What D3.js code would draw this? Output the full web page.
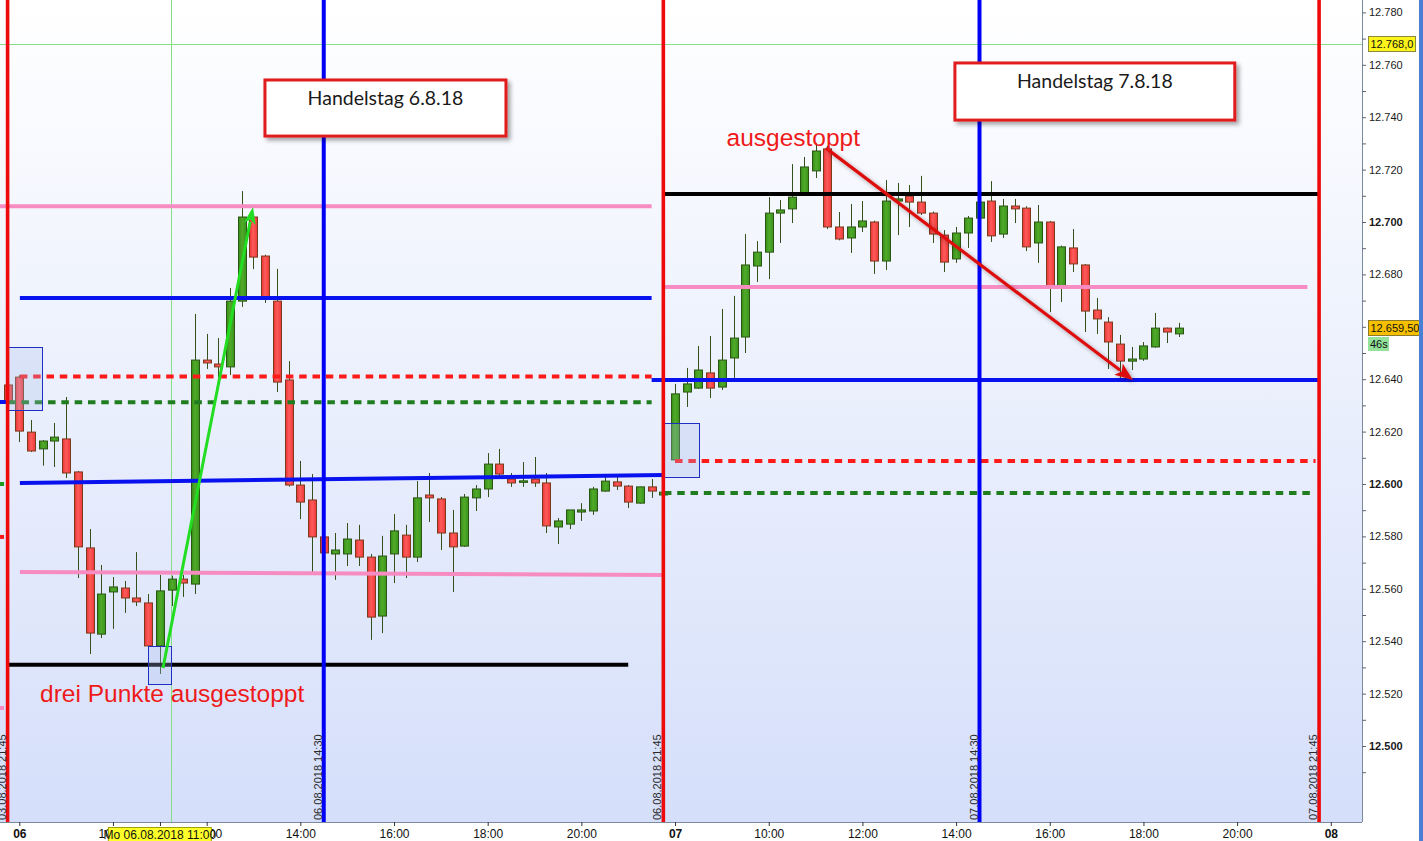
<!DOCTYPE html>
<html><head><meta charset="utf-8">
<script src="https://cdn.jsdelivr.net/npm/d3@7"></script>
<style>
html,body{margin:0;padding:0;background:#fff;overflow:hidden}
svg{display:block}
</style></head><body>
<svg id="c" width="1423" height="841"></svg>
<script>
// ---------------- DATA ----------------
// 15-minute bars; bar index 0 = Mo 06.08.2018 08:00, index -1 = Fr 03.08.2018 21:45
const firstBar = -1;
const opens  = [12637.8,12640.8,12619.8,12613.4,12616.4,12617.2,12604.6,12575.6,12542.7,12558.8,12560.3,12556.5,12554.6,12538.2,12559.5,12563.7,12561.8,12647.3,12645.8,12644.7,12669.8,12701.9,12687.0,12669.8,12639.7,12599.6,12593.9,12579.8,12573.3,12573.3,12578.6,12572.1,12549.6,12573.3,12580.5,12572.1,12595.8,12594.3,12581.3,12576.3,12594.7,12598.1,12607.6,12601.9,12601.1,12601.9,12600.4,12583.6,12584.7,12589.3,12589.7,12597.3,12600.8,12599.2,12592.7,12598.9,12595.8,
  12609.2,12635.1,12636.6,12642.4,12637.0,12648.1,12656.1,12683.2,12688.5,12703.4,12705.0,12711.1,12719.5,12727.9,12698.1,12693.9,12698.1,12700.0,12685.1,12708.0,12709.9,12707.6,12703.4,12695.0,12685.9,12695.8,12701.5,12708.0,12695.4,12706.1,12705.3,12692.0,12700.0,12675.2,12690.1,12683.6,12666.4,12661.8,12653.4,12646.9,12647.7,12652.3,12659.5,12657.3];
const highs  = [12639.0,12641.5,12624.4,12616.8,12623.3,12633.2,12605.0,12582.8,12569.1,12564.5,12563.0,12574.0,12558.0,12565.3,12565.0,12565.3,12664.9,12657.3,12655.7,12674.8,12711.8,12703.0,12687.5,12682.1,12646.9,12608.8,12603.8,12581.0,12581.3,12585.1,12584.4,12573.3,12580.2,12588.5,12584.4,12601.1,12604.2,12595.0,12590.1,12596.2,12599.6,12611.8,12613.4,12604.2,12608.4,12610.3,12604.2,12587.0,12590.1,12592.7,12598.9,12602.7,12602.7,12599.6,12599.0,12601.9,12597.0,
  12638.2,12644.3,12652.7,12656.5,12666.8,12671.8,12695.4,12692.7,12709.5,12708.4,12722.1,12724.8,12730.2,12729.0,12703.8,12706.9,12708.0,12700.5,12716.0,12714.9,12714.1,12717.6,12704.0,12696.9,12698.1,12702.3,12710.0,12715.6,12708.8,12708.8,12706.0,12706.5,12700.4,12691.0,12697.3,12684.0,12671.0,12663.7,12656.9,12652.3,12654.2,12665.3,12659.7,12661.5];
const lows   = [12630.0,12616.0,12612.2,12607.0,12606.5,12602.3,12564.1,12535.1,12541.2,12544.7,12550.8,12553.4,12538.2,12527.5,12553.4,12556.9,12558.0,12643.9,12640.0,12641.6,12667.6,12682.0,12669.1,12635.1,12599.0,12586.6,12566.4,12572.0,12563.4,12568.7,12568.7,12540.5,12543.1,12562.2,12564.1,12570.2,12585.5,12574.8,12558.8,12576.0,12589.7,12595.0,12602.7,12598.9,12598.9,12598.9,12581.3,12577.1,12582.8,12585.9,12588.2,12597.0,12597.7,12590.8,12592.5,12594.7,12595.5,
  12608.0,12629.4,12636.3,12632.8,12635.9,12639.7,12650.0,12677.1,12678.2,12692.0,12699.6,12711.0,12716.8,12697.3,12693.0,12688.2,12696.2,12680.2,12681.7,12695.0,12698.1,12702.7,12692.0,12680.9,12684.4,12690.1,12701.0,12692.4,12693.9,12699.6,12688.9,12684.4,12665.6,12669.5,12680.9,12658.0,12657.3,12643.9,12640.5,12643.5,12647.0,12652.0,12653.8,12656.1];
const closes = [12631.3,12620.2,12612.6,12616.4,12617.9,12604.2,12576.0,12543.1,12558.0,12560.7,12556.5,12555.0,12538.2,12559.2,12563.7,12562.2,12647.3,12646.2,12644.7,12669.8,12701.9,12686.6,12671.4,12638.9,12599.6,12593.1,12579.8,12573.7,12574.8,12579.0,12572.1,12549.2,12572.5,12582.1,12572.1,12594.7,12594.7,12581.3,12576.0,12595.0,12598.1,12607.6,12603.8,12600.4,12601.2,12600.4,12584.0,12585.9,12590.1,12590.1,12598.1,12601.1,12599.2,12593.1,12598.9,12597.3,12596.9,
  12634.4,12638.2,12643.5,12636.6,12647.3,12655.7,12683.6,12688.5,12703.4,12704.6,12709.5,12721.0,12727.1,12698.1,12693.5,12698.1,12700.4,12685.1,12708.0,12708.8,12707.6,12703.4,12695.4,12684.7,12695.8,12701.5,12707.6,12694.7,12706.1,12705.0,12690.5,12700.0,12675.2,12690.5,12684.0,12666.0,12663.0,12654.2,12646.9,12647.7,12652.7,12659.5,12658.0,12659.5];

// x axis ticks (bar index) and labels
const xTickBars   = [0,8,16,24,32,40,48,56,64,72,80,88,96,104,112];
const xTickLabels = ["06","10:00","12:00","14:00","16:00","18:00","20:00","07","10:00","12:00","14:00","16:00","18:00","20:00","08"];
const xDayTicks   = ["06","07","08"];
// y axis
const yTickValues  = d3.range(12490, 12781, 10);
const yBoldValues  = [12500, 12600, 12700];

// session separators
const sepBars   = [-1, 26, 55, 82, 111];
const sepKinds  = ["close","mid","close","mid","close"];
const sepLabels = ["03.08.2018 21:45","06.08.2018 14:30","06.08.2018 21:45","07.08.2018 14:30","07.08.2018 21:45"];

// drawn level lines: [startBar, startValue, endBar, endValue, kind]
const levelLines = [
  [-1.65,12706.0, 54.0,12706.0,"pink"],
  [ 0.05,12671.0, 54.0,12671.0,"blue"],
  [ 0.05,12641.0, 54.0,12641.0,"reddash"],
  [-0.95,12631.2, 54.0,12631.2,"greendash"],
  [ 0.05,12600.4, 55.0,12603.4,"blue"],
  [ 0.05,12566.4, 55.0,12565.3,"pink"],
  [-1.05,12531.0, 52.0,12531.0,"black"],
  [55.05,12710.7,111.0,12710.7,"black"],
  [55.05,12675.2,110.0,12675.2,"pink"],
  [54.0, 12639.7,111.0,12639.7,"blue"],
  [56.0, 12608.8,110.7,12608.8,"reddash"],
  [55.05,12596.6,110.7,12596.6,"greendash"],
  // ends of the previous day's lines at the left edge
  [-2.5,12631.3,-1.0,12631.3,"blue"],
  [-2.5,12600.0,-1.3,12600.0,"green"],
  [-2.5,12579.8,-1.3,12579.8,"red"],
  [-2.5,12514.5,-1.3,12514.5,"pink"]
];
// marked zones: [bar0, bar1, valueTop, valueBottom]
const zones = [
  [-0.96, 1.94, 12652.3, 12628.2],
  [10.99,12.95, 12538.2, 12523.7],
  [55.06,58.04, 12623.3, 12602.7]
];
// arrows: [bar0, value0, bar1, value1, kind]
const arrows = [
  [12.27,12529.8,19.96,12705.7,"green"],
  [68.89,12728.2,95.10,12639.7,"red"]
];
// text notes: [bar, value(baseline), text]
const notes = [
  [1.77, 12516.8, "drei Punkte ausgestoppt"],
  [60.4, 12729.0, "ausgestoppt"]
];
// labelled boxes: [bar0, bar1, valueTop, valueBottom, text]
const boxes = [
  [20.98, 41.56, 12754.2, 12732.8, "Handelstag 6.8.18"],
  [79.90,103.80, 12760.7, 12738.9, "Handelstag 7.8.18"]
];
// crosshair
const crossBar = 12.95, crossValue = 12768.0, crossLabelBar = 12, crossLabel = "Mo 06.08.2018 11:00";
const lastPrice = 12659.5, lastTimer = "46s";

// ---------------- CHART ----------------
const W = 1423, H = 841, plotR = 1362, plotB = 822;
const x = d3.scaleLinear().domain([0, 112]).range([19.3, 1330.8]);
const y = d3.scaleLinear().domain([12500, 12700]).range([746, 222]);
const loc = d3.formatLocale({decimal:",", thousands:".", grouping:[3], currency:["",""]});
const fInt = loc.format(",.0f"), f1 = loc.format(",.1f"), f2 = loc.format(",.2f");
const FONT = "'Liberation Sans', Arial, sans-serif";

const svg = d3.select("#c");
const defs = svg.append("defs");
const bg = defs.append("linearGradient").attr("id","bg").attr("x1",0).attr("y1",0).attr("x2",0).attr("y2",1);
bg.append("stop").attr("offset","0%").attr("stop-color","#ffffff");
bg.append("stop").attr("offset","100%").attr("stop-color","#d5dffa");
const gr = defs.append("linearGradient").attr("id","gRed").attr("x1",0).attr("y1",0).attr("x2",1).attr("y2",0);
gr.append("stop").attr("offset","0%").attr("stop-color","#e83232");
gr.append("stop").attr("offset","45%").attr("stop-color","#ff5c5c");
gr.append("stop").attr("offset","100%").attr("stop-color","#ee3636");
const gg = defs.append("linearGradient").attr("id","gGreen").attr("x1",0).attr("y1",0).attr("x2",1).attr("y2",0);
gg.append("stop").attr("offset","0%").attr("stop-color","#348e16");
gg.append("stop").attr("offset","45%").attr("stop-color","#52aa2a");
gg.append("stop").attr("offset","100%").attr("stop-color","#38941c");
const sh = defs.append("filter").attr("id","sh").attr("x","-10%").attr("y","-20%").attr("width","130%").attr("height","160%");
sh.append("feDropShadow").attr("dx",3).attr("dy",3).attr("stdDeviation",2).attr("flood-color","#000").attr("flood-opacity",0.35);
const sh2 = defs.append("filter").attr("id","sh2").attr("x","-10%").attr("y","-10%").attr("width","120%").attr("height","120%");
sh2.append("feDropShadow").attr("dx",2).attr("dy",2).attr("stdDeviation",2).attr("flood-color","#000").attr("flood-opacity",0.35);
defs.append("clipPath").attr("id","clip").append("rect").attr("width",plotR).attr("height",plotB);

svg.append("rect").attr("width",W).attr("height",H).attr("fill","#ffffff");
svg.append("rect").attr("width",plotR).attr("height",plotB).attr("fill","url(#bg)");

const g = svg.append("g").attr("clip-path","url(#clip)");

// crosshair
g.append("line").attr("x1",0).attr("x2",plotR).attr("y1",Math.round(y(crossValue))+0.5).attr("y2",Math.round(y(crossValue))+0.5)
  .attr("stroke","#86e086").attr("stroke-width",1);
g.append("line").attr("x1",Math.round(x(crossBar))+0.5).attr("x2",Math.round(x(crossBar))+0.5).attr("y1",0).attr("y2",plotB)
  .attr("stroke","#86e086").attr("stroke-width",1);

// candles
const bars = opens.map((o,i)=>({i: firstBar+i, o, h: highs[i], l: lows[i], c: closes[i]}));
const bw = 8;
const cg = g.append("g");
bars.forEach(d=>{
  const cx = Math.round(x(d.i));
  const up = d.c >= d.o;
  cg.append("line").attr("x1",cx+0.5).attr("x2",cx+0.5).attr("y1",y(d.h)).attr("y2",y(d.l))
    .attr("stroke","#34501c").attr("stroke-width",1);
  const top = y(Math.max(d.o,d.c)), bot = y(Math.min(d.o,d.c));
  const hgt = Math.max(bot-top, 1.5);
  cg.append("rect").attr("x",cx-bw/2+0.5).attr("y",top).attr("width",bw).attr("height",hgt)
    .attr("fill", up ? "url(#gGreen)" : "url(#gRed)")
    .attr("stroke", up ? "#2b5512" : "#7a3a1c").attr("stroke-width",1);
});

// level lines
const lineStyle = {
  pink:{c:"#f78cc2",w:4,d:null}, blue:{c:"#0812ee",w:4,d:null}, black:{c:"#000000",w:4,d:null},
  reddash:{c:"#ff1a1a",w:4,d:"7.5,5.8"}, greendash:{c:"#1f7d1f",w:4,d:"7.5,5.8"},
  green:{c:"#1f9a1f",w:4,d:null}, red:{c:"#ff1a1a",w:4,d:null}
};
levelLines.forEach(([b0,v0,b1,v1,k])=>{
  const s = lineStyle[k];
  const ln = g.append("line").attr("x1",x(b0)).attr("y1",y(v0)).attr("x2",x(b1)).attr("y2",y(v1))
    .attr("stroke",s.c).attr("stroke-width",s.w);
  if (s.d) ln.attr("stroke-dasharray",s.d);
});

// zones
zones.forEach(([b0,b1,vt,vb])=>{
  g.append("rect").attr("x",Math.round(x(b0))+0.5).attr("y",Math.round(y(vt))+0.5)
    .attr("width",Math.round(x(b1)-x(b0))).attr("height",Math.round(y(vb)-y(vt)))
    .attr("fill","rgba(170,190,235,0.28)").attr("stroke","#1c2fc0").attr("stroke-width",1);
});

// separators
sepBars.forEach((b,k)=>{
  const xx = x(b);
  g.append("line").attr("x1",xx).attr("x2",xx).attr("y1",0).attr("y2",plotB)
    .attr("stroke", sepKinds[k]==="close" ? "#ee0a0a" : "#0000f5").attr("stroke-width",sepKinds[k]==="close"?3.6:4);
  g.append("text").attr("transform",`translate(${xx-2},${plotB-2}) rotate(-90)`)
    .attr("font-family",FONT).attr("font-size",11).attr("fill","#2a2a2a").text(sepLabels[k]);
});

// arrows
const arrowStyle = {green:{c:"#22dd22",w:3,len:17,hw:6,f:null}, red:{c:"#dd1111",w:3.2,len:18,hw:7,f:"url(#sh2)"}};
arrows.forEach(([b0,v0,b1,v1,k])=>{
  const s = arrowStyle[k];
  const x0=x(b0),y0=y(v0),x1=x(b1),y1=y(v1);
  const dx=x1-x0, dy=y1-y0, L=Math.hypot(dx,dy), ux=dx/L, uy=dy/L;
  const bx=x1-ux*s.len, by=y1-uy*s.len;
  const ag = g.append("g"); if (s.f) ag.attr("filter",s.f);
  ag.append("line").attr("x1",x0).attr("y1",y0).attr("x2",bx+ux*2).attr("y2",by+uy*2)
    .attr("stroke",s.c).attr("stroke-width",s.w);
  ag.append("path").attr("d",`M${x1},${y1}L${bx-uy*s.hw},${by+ux*s.hw}L${bx+ux*4},${by+uy*4}L${bx+uy*s.hw},${by-ux*s.hw}Z`)
    .attr("fill",s.c);
});

// notes
notes.forEach(([b,v,t])=>{
  g.append("text").attr("x",x(b)).attr("y",y(v)).attr("font-family",FONT).attr("font-size",24.5)
    .attr("fill","#ee1a1a").text(t);
});

// boxes
boxes.forEach(([b0,b1,vt,vb,t])=>{
  const x0=x(b0),x1=x(b1),yt=y(vt),yb=y(vb);
  g.append("rect").attr("x",x0).attr("y",yt).attr("width",x1-x0).attr("height",yb-yt)
    .attr("fill","#ffffff").attr("stroke","#e01c1c").attr("stroke-width",3).attr("filter","url(#sh)");
  g.append("text").attr("x",(x0+x1)/2).attr("y",yt+25).attr("text-anchor","middle")
    .attr("font-family","Lato, 'Open Sans', sans-serif").attr("font-size",19.5).attr("fill","#1a1a1a").text(t);
});

// ---------------- AXES ----------------
// labels hidden behind the price tag are not printed
const coveredY = [Math.round(lastPrice/20)*20];
const yAxis = d3.axisRight(y).tickValues(yTickValues).tickSize(4).tickPadding(3)
  .tickFormat(v => (v % 20 === 0 && !coveredY.includes(v)) ? fInt(v) : "");
const ya = svg.append("g").attr("transform",`translate(${plotR},0)`).call(yAxis);
ya.select(".domain").attr("stroke","#7c8aa0").attr("d",`M0.5,0V${plotB}`);
ya.selectAll(".tick line").attr("stroke","#5a6474");
ya.selectAll(".tick text").attr("font-family",FONT).attr("font-size",11).attr("fill","#1a1a1a")
  .attr("font-weight", v => yBoldValues.includes(v) ? "bold" : "normal");

const xAxis = d3.axisBottom(x).tickValues(xTickBars).tickSize(4).tickPadding(3)
  .tickFormat((v,i)=>xTickLabels[i]);
const xa = svg.append("g").attr("transform",`translate(0,${plotB})`).call(xAxis);
xa.select(".domain").attr("stroke","#7c8aa0").attr("d",`M0,0.5H${plotR}`);
xa.selectAll(".tick line").attr("stroke","#333");
xa.selectAll(".tick text").attr("font-family",FONT).attr("font-size",12).attr("fill","#111")
  .attr("font-weight",(v,i)=> xDayTicks.includes(xTickLabels[i]) ? "bold" : "normal");

// crosshair time label
const cxl = x(crossLabelBar);
svg.append("line").attr("x1",Math.round(cxl)+0.5).attr("x2",Math.round(cxl)+0.5).attr("y1",plotB).attr("y2",plotB+4).attr("stroke","#333");
svg.append("rect").attr("x",cxl-51.5).attr("y",plotB+5.5).attr("width",103).attr("height",15)
  .attr("fill","#ffff2a").attr("stroke","#a0a000").attr("stroke-width",1);
svg.append("text").attr("x",cxl).attr("y",plotB+17).attr("text-anchor","middle")
  .attr("font-family",FONT).attr("font-size",12).attr("fill","#111").text(crossLabel);

// price labels on the y axis
function priceTag(v, txt, fill, stroke){
  const yy = Math.round(y(v));
  const tg = svg.append("g");
  const r = tg.append("rect");
  const t = tg.append("text").attr("x",plotR+8.5).attr("y",yy+4).attr("font-family",FONT).attr("font-size",11)
    .attr("fill","#111").text(txt);
  const w = t.node().getComputedTextLength();
  r.attr("x",plotR+6.5).attr("y",yy-7.5).attr("width",Math.round(w)+4).attr("height",15)
    .attr("fill",fill).attr("stroke",stroke).attr("stroke-width",1);
}
priceTag(crossValue, f1(crossValue), "#fbf31a", "#8a8a3a");
priceTag(lastPrice, f2(lastPrice), "#f6c000", "#8a7a2a");
svg.append("rect").attr("x",plotR+6).attr("y",Math.round(y(lastPrice))+9).attr("width",21).attr("height",14).attr("fill","#93e39a");
svg.append("text").attr("x",plotR+8).attr("y",Math.round(y(lastPrice))+20).attr("font-family",FONT).attr("font-size",11)
  .attr("fill","#111").text(lastTimer);

// window border on the right
svg.append("rect").attr("x",W-4).attr("y",0).attr("width",4).attr("height",H).attr("fill","#4a7fd6");
</script>
</body></html>
